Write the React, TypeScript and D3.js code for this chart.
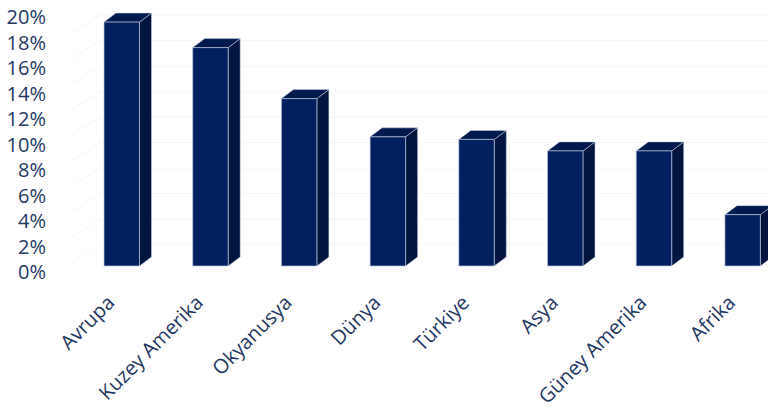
import React from "react";
import * as d3 from "d3";

const categories = ["Avrupa", "Kuzey Amerika", "Okyanusya", "Dünya", "Türkiye", "Asya", "Güney Amerika", "Afrika"];
const values = [19.6, 17.6, 13.6, 10.6, 10.4, 9.5, 9.5, 4.5];
const tickValues = [0, 2, 4, 6, 8, 10, 12, 14, 16, 18, 20];

const W = 768;
const H = 412;
const DX = 12;
const DY = -9;

export default function App() {
  const y = d3.scaleLinear().domain([0, 20]).range([272, 17]);
  const x = d3.scaleBand<string>().domain(categories).range([77.4, 787]).paddingInner(0.6).paddingOuter(0.3);
  const bw = x.bandwidth();
  const base = y(0) - 6;
  const font = "'Open Sans', sans-serif";
  const txt = "#1f3864";

  return (
    <svg width={W} height={H} style={{ display: "block", position: "absolute", left: 0, top: 0 }}>
      <rect width={W} height={H} fill="#fff" />
      {tickValues.slice(1).map((t) => (
        <line key={"g" + t} x1={100} x2={W} y1={y(t) - 2} y2={y(t) - 2} stroke="#f6f6f6" strokeWidth={1} />
      ))}
      {tickValues.slice(1).map((t) => (
        <line key={"w" + t} x1={72} x2={100} y1={y(t) + 16} y2={y(t) - 2} stroke="#f6f6f6" strokeWidth={1} />
      ))}
      {tickValues.map((t) => (
        <text key={"t" + t} x={46} y={y(t)} dy="0.35em" textAnchor="end" fontFamily={font} fontSize={20} fill={txt}>
          {t + "%"}
        </text>
      ))}
      {categories.map((c, i) => {
        const x0 = x(c)!;
        const x1 = x0 + bw;
        const top = y(values[i]);
        const front = `M${x0},${base}L${x1},${base}L${x1},${top}L${x0},${top}Z`;
        const side = `M${x1},${base}L${x1 + DX},${base + DY}L${x1 + DX},${top + DY}L${x1},${top}Z`;
        const topFace = `M${x0},${top}L${x0 + DX},${top + DY}L${x1 + DX},${top + DY}L${x1},${top}Z`;
        return (
          <g key={c}>
            <path d={side} fill="#01153f" stroke="#c9d1e0" strokeWidth={0.5} />
            <path d={topFace} fill="#011a4e" stroke="#c9d1e0" strokeWidth={0.5} />
            <path d={front} fill="#022060" stroke="#b8c3d8" strokeWidth={0.7} />
          </g>
        );
      })}
      {categories.map((c) => {
        const cx = x(c)! + bw / 2;
        return (
          <text
            key={"l" + c}
            transform={`translate(${cx - 6},${304}) rotate(-45)`}
            textAnchor="end"
            fontFamily={font}
            fontSize={20}
            fill={txt}
          >
            {c}
          </text>
        );
      })}
    </svg>
  );
}
